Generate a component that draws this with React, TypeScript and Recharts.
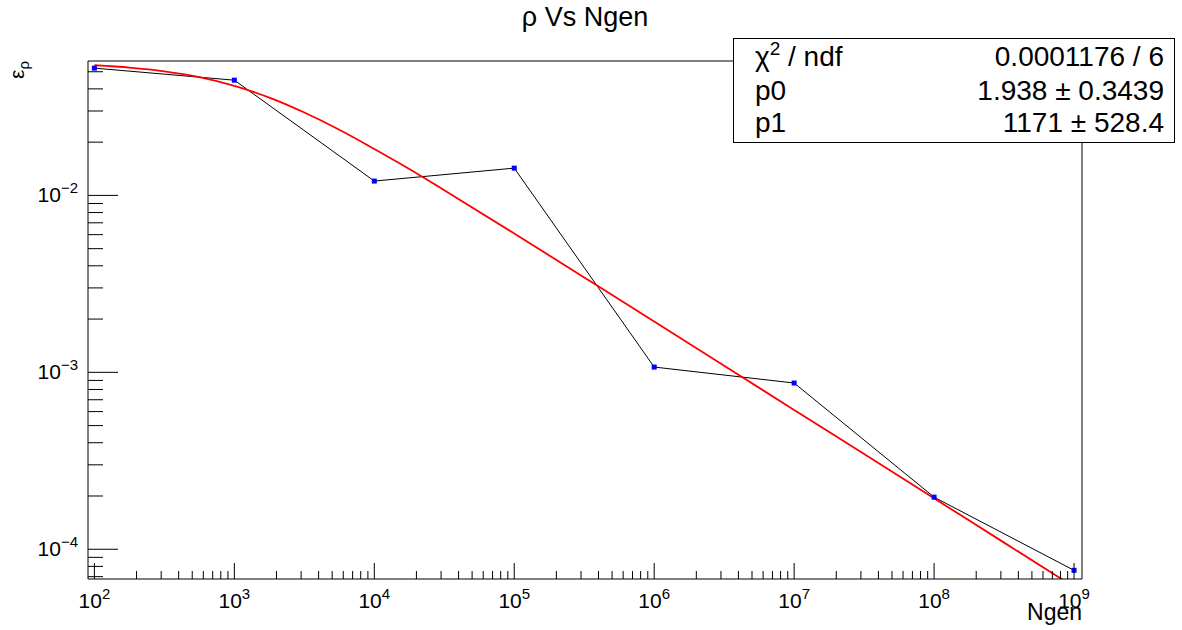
import { ComposedChart, Line, XAxis, YAxis, ReferenceLine } from 'recharts';

// measured points (Ngen vs efficiency)
const ngen = [1e2, 1e3, 1e4, 1e5, 1e6, 1e7, 1e8, 1e9];
const effRho = [0.0524, 0.0448, 0.01205, 0.01426, 0.001071, 0.00087, 0.000197, 0.000076];

// fit curve
const fitX = [100, 178, 316, 562, 1000, 1778, 3162, 5623, 10000, 17783, 31623, 100000, 316228, 1e6, 3162278, 1e7, 31622777, 1e8, 316227766, 1e9];
const fitY = [0.0544, 0.0528, 0.0503, 0.0466, 0.0416, 0.0357, 0.0294, 0.0235, 0.0183, 0.0141, 0.0107, 0.00609, 0.00344, 0.00194, 0.00109, 0.000613, 0.000345, 0.000194, 0.000109, 0.0000613];

const xTicks = [
  100, 200, 300, 400, 500, 600, 700, 800, 900,
  1e3, 2e3, 3e3, 4e3, 5e3, 6e3, 7e3, 8e3, 9e3,
  1e4, 2e4, 3e4, 4e4, 5e4, 6e4, 7e4, 8e4, 9e4,
  1e5, 2e5, 3e5, 4e5, 5e5, 6e5, 7e5, 8e5, 9e5,
  1e6, 2e6, 3e6, 4e6, 5e6, 6e6, 7e6, 8e6, 9e6,
  1e7, 2e7, 3e7, 4e7, 5e7, 6e7, 7e7, 8e7, 9e7,
  1e8, 2e8, 3e8, 4e8, 5e8, 6e8, 7e8, 8e8, 9e8,
  1e9,
];
const yTicks = [
  7e-5, 8e-5, 9e-5,
  1e-4, 2e-4, 3e-4, 4e-4, 5e-4, 6e-4, 7e-4, 8e-4, 9e-4,
  1e-3, 2e-3, 3e-3, 4e-3, 5e-3, 6e-3, 7e-3, 8e-3, 9e-3,
  1e-2, 2e-2, 3e-2, 4e-2, 5e-2,
];

const statsRows = [
  { label: 'p0', value: '1.938 \u00b1 0.3439' },
  { label: 'p1', value: '1171 \u00b1 528.4' },
];

const FONT = '"Liberation Sans", Arial, Helvetica, sans-serif';
const X_MIN = 90;
const X_MAX = 1.14e9;
const Y_MIN = 6.79e-5;
const Y_MAX = 0.0575;

const pointData = ngen.map((x, i) => ({ x, y: effRho[i] }));
const fitData = fitX.map((x, i) => ({ x, f: fitY[i] }));

const decade = (v: number) => {
  const e = Math.round(Math.log10(v));
  return { e, major: Math.abs(Math.log10(v) - e) < 1e-6 };
};

const XTick = (props: any) => {
  const { x, y, payload } = props;
  const { e, major } = decade(payload.value);
  return (
    <g>
      <line x1={x} x2={x} y1={y} y2={y - (major ? 16 : 8)} stroke="#000" />
      {major && (
        <text x={x} y={y + 29} textAnchor="middle" fontSize={21} fontFamily={FONT} fill="#000">
          10<tspan dy={-9} fontSize={15}>{e}</tspan>
        </text>
      )}
    </g>
  );
};

const YTick = (props: any) => {
  const { x, y, payload } = props;
  const { e, major } = decade(payload.value);
  return (
    <g>
      <line x1={x} x2={x + (major ? 30 : 15)} y1={y} y2={y} stroke="#000" />
      {major && (
        <text x={x - 10} y={y + 7} textAnchor="end" fontSize={21} fontFamily={FONT} fill="#000">
          10<tspan dy={-9} fontSize={15}>{'\u2212' + Math.abs(e)}</tspan>
        </text>
      )}
    </g>
  );
};

const Marker = (props: any) => {
  const { cx, cy } = props;
  if (cx == null || cy == null) return null;
  return <rect x={cx - 2.5} y={cy - 2.5} width={5} height={5} fill="#0000ff" />;
};

export default function App() {
  return (
    <div style={{ position: 'fixed', left: 0, top: 0, width: 1182, height: 630, background: '#fff' }}>
      <ComposedChart width={1182} height={630} margin={{ top: 61, right: 100, left: 28, bottom: 11 }}>
        <XAxis
          dataKey="x"
          type="number"
          scale="log"
          domain={[X_MIN, X_MAX]}
          allowDataOverflow
          ticks={xTicks}
          interval={0}
          tick={<XTick />}
          tickLine={false}
          tickSize={0}
          tickMargin={0}
          height={40}
          axisLine={{ stroke: '#000' }}
        />
        <YAxis
          type="number"
          scale="log"
          domain={[Y_MIN, Y_MAX]}
          allowDataOverflow
          ticks={yTicks}
          interval={0}
          tick={<YTick />}
          tickLine={false}
          tickSize={0}
          tickMargin={0}
          width={60}
          axisLine={{ stroke: '#000' }}
        />
        <ReferenceLine y={Y_MAX} stroke="#000" ifOverflow="visible" />
        <ReferenceLine x={X_MAX} stroke="#000" ifOverflow="visible" />
        <Line
          data={pointData}
          dataKey="y"
          type="linear"
          stroke="#000"
          strokeWidth={1}
          dot={<Marker />}
          activeDot={false}
          isAnimationActive={false}
        />
        <Line
          data={fitData}
          dataKey="f"
          type="monotone"
          stroke="#ff0000"
          strokeWidth={1.8}
          dot={false}
          activeDot={false}
          isAnimationActive={false}
        />
      </ComposedChart>
      <svg width={1182} height={630} style={{ position: 'absolute', left: 0, top: 0, pointerEvents: 'none' }}>
        <text x={585} y={26} textAnchor="middle" fontSize={27} fontFamily={FONT} fill="#000">
          ρ Vs Ngen
        </text>
        <text x={1082} y={620} textAnchor="end" fontSize={23} fontFamily={FONT} fill="#000">
          Ngen
        </text>
        <text transform="translate(24,61) rotate(-90)" textAnchor="end" fontSize={21} fontFamily={FONT} fill="#000">
          ε<tspan dy={5} fontSize={15}>ρ</tspan>
        </text>
        <rect x={733.5} y={38.5} width={441} height={104} fill="#fff" stroke="#000" />
        <text x={755} y={66} fontSize={28} fontFamily={FONT} fill="#000">
          χ<tspan dy={-11} fontSize={19}>2</tspan><tspan dy={11}> / ndf</tspan>
        </text>
        <text x={1164} y={66} textAnchor="end" fontSize={28} fontFamily={FONT} fill="#000">
          0.0001176 / 6
        </text>
        {statsRows.map((r, i) => (
          <g key={r.label}>
            <text x={755} y={100 + i * 32} fontSize={28} fontFamily={FONT} fill="#000">{r.label}</text>
            <text x={1164} y={100 + i * 32} textAnchor="end" fontSize={28} fontFamily={FONT} fill="#000">{r.value}</text>
          </g>
        ))}
      </svg>
    </div>
  );
}
